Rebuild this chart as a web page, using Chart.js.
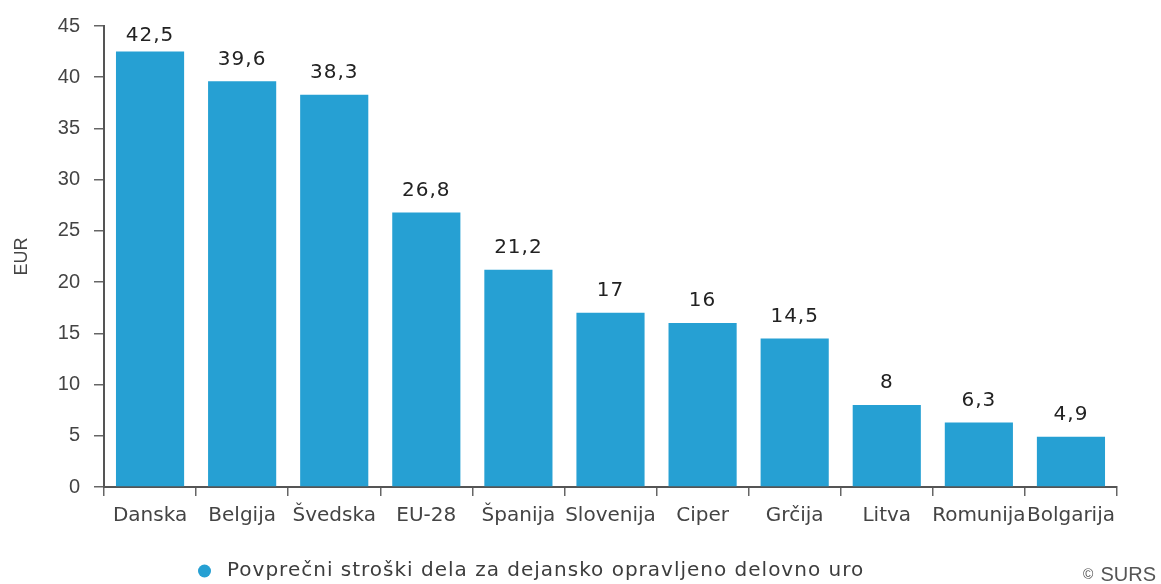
<!DOCTYPE html>
<html>
<head>
<meta charset="utf-8">
<script src="https://cdn.jsdelivr.net/npm/chart.js@4/dist/chart.umd.min.js"></script>
<style>
  html, body { margin: 0; padding: 0; background: #ffffff; }
  #wrap { width: 1161px; height: 584px; position: relative; }
</style>
</head>
<body>
<div id="wrap"><canvas id="c" width="1161" height="584"></canvas></div>
<script>
const categories = ["Danska", "Belgija", "Švedska", "EU-28", "Španija", "Slovenija", "Ciper", "Grčija", "Litva", "Romunija", "Bolgarija"];
const values = [42.5, 39.6, 38.3, 26.8, 21.2, 17, 16, 14.5, 8, 6.3, 4.9];
const seriesName = "Povprečni stroški dela za dejansko opravljeno delovno uro";
const axisTitle = "EUR";
const yTicks = { min: 0, max: 45, step: 5 };
const creditSymbol = "©";
const creditText = "SURS";

const barColor = "#26a0d3";
const textColor = "#444444";

const fmt = v => String(v).replace('.', ',');

const extras = {
  id: 'extras',
  afterDatasetsDraw(chart) {
    const ctx = chart.ctx;
    const meta = chart.getDatasetMeta(0);
    const area = chart.chartArea;
    ctx.save();
    ctx.font = '20px "DejaVu Sans", Verdana, sans-serif';
    ctx.letterSpacing = '1px';
    ctx.fillStyle = '#222222';
    ctx.textAlign = 'center';
    ctx.textBaseline = 'middle';
    meta.data.forEach((bar, i) => {
      let y = bar.y - 22;
      if (y < area.top + 10) y = area.top + 10;
      ctx.fillText(fmt(values[i]), bar.x, y);
    });
    ctx.restore();
  },
  afterDraw(chart) {
    const ctx = chart.ctx;
    ctx.save();
    // legend
    ctx.fillStyle = barColor;
    ctx.beginPath();
    ctx.arc(204.5, 571, 6.5, 0, Math.PI * 2);
    ctx.fill();
    ctx.font = '20px "DejaVu Sans", Verdana, sans-serif';
    ctx.letterSpacing = '1px';
    ctx.fillStyle = '#3d3d3d';
    ctx.textAlign = 'left';
    ctx.textBaseline = 'middle';
    ctx.fillText(seriesName, 227, 571);
    // credit
    ctx.letterSpacing = '0px';
    ctx.fillStyle = '#555555';
    ctx.textAlign = 'right';
    ctx.font = '20px "Liberation Sans", Arial, sans-serif';
    ctx.fillText(creditText, 1156, 575);
    const w = ctx.measureText(creditText).width;
    ctx.font = '14px "Liberation Sans", Arial, sans-serif';
    ctx.fillText(creditSymbol, 1156 - w - 7, 575);
    ctx.restore();
  }
};

new Chart(document.getElementById('c'), {
  type: 'bar',
  data: {
    labels: categories,
    datasets: [{
      label: seriesName,
      data: values,
      backgroundColor: barColor,
      borderWidth: 0,
      barPercentage: 0.74,
      categoryPercentage: 1.0
    }]
  },
  options: {
    responsive: false,
    animation: false,
    devicePixelRatio: 1,
    layout: { padding: { left: 0, right: 44, top: 25, bottom: 0 } },
    plugins: {
      legend: { display: false },
      tooltip: { enabled: false }
    },
    scales: {
      x: {
        grid: {
          display: true,
          drawOnChartArea: false,
          drawTicks: true,
          tickLength: 9,
          color: '#666666',
          lineWidth: 1.5,
          offset: true
        },
        border: { display: true, color: '#555555', width: 2 },
        ticks: {
          autoSkip: false,
          maxRotation: 0,
          minRotation: 0,
          padding: 8,
          color: textColor,
          font: { family: '"DejaVu Sans", Verdana, sans-serif', size: 20 }
        },
        afterFit(scale) { scale.height = 97; }
      },
      y: {
        min: yTicks.min,
        max: yTicks.max,
        ticks: {
          stepSize: yTicks.step,
          padding: 14,
          color: textColor,
          font: { family: '"Liberation Sans", Arial, sans-serif', size: 20 }
        },
        grid: {
          display: true,
          drawOnChartArea: false,
          drawTicks: true,
          tickLength: 10,
          color: '#666666',
          lineWidth: 1.5
        },
        border: { display: true, color: '#555555', width: 2 },
        title: {
          display: true,
          text: axisTitle,
          color: textColor,
          font: { family: '"Liberation Sans", Arial, sans-serif', size: 18 },
          padding: { top: 11, bottom: 0 }
        },
        afterFit(scale) { scale.width = 104; }
      }
    }
  },
  plugins: [extras]
});
</script>
</body>
</html>
